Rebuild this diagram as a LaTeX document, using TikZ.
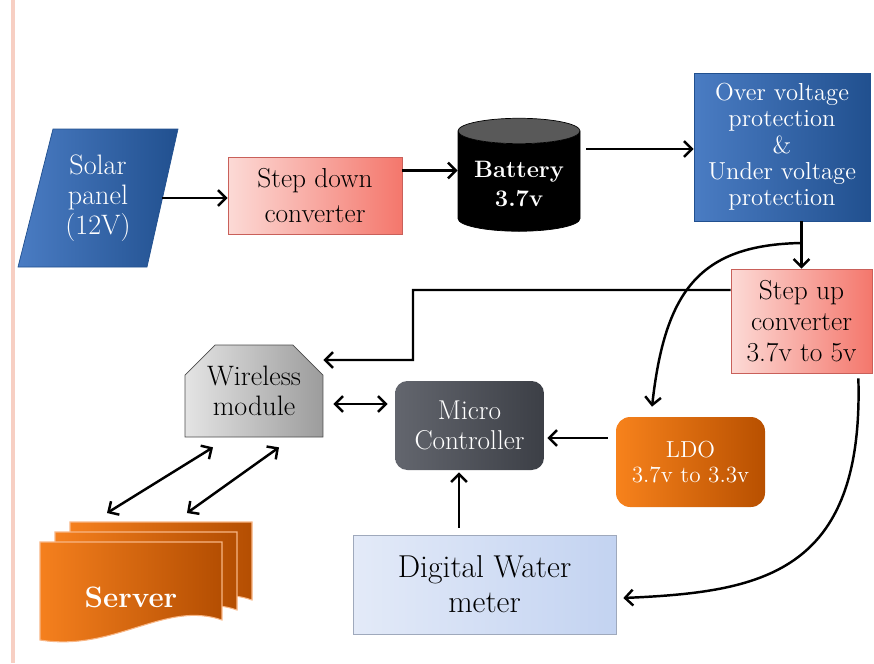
\documentclass[tikz,border=0pt]{standalone}
\usepackage{tikz}
\usetikzlibrary{shapes.geometric, shapes.misc, arrows.meta}

\definecolor{edgepink}{HTML}{F7CFC3}
\definecolor{bluelight}{HTML}{4A7CC3}
\definecolor{bluedark}{HTML}{21508F}
\definecolor{pinklight}{HTML}{FCDAD6}
\definecolor{pinkdark}{HTML}{F4776C}
\definecolor{pinkline}{HTML}{C9605A}
\definecolor{greylight}{HTML}{E4E4E4}
\definecolor{greydark}{HTML}{9C9C9C}
\definecolor{microlight}{HTML}{63666E}
\definecolor{microdark}{HTML}{3C3F46}
\definecolor{ldolight}{HTML}{F7821C}
\definecolor{ldodark}{HTML}{B85000}
\definecolor{meterlight}{HTML}{E3EAF8}
\definecolor{meterdark}{HTML}{C3D3F1}
\definecolor{meterline}{HTML}{9FA9BC}
\definecolor{srvlight}{HTML}{F5801E}
\definecolor{srvdark}{HTML}{B44E02}
\definecolor{srvline}{HTML}{F8B685}

\begin{document}
\begin{tikzpicture}[x = 0.02cm, y = -0.02cm,
  link/.style = {line width = 1.4pt, >={Straight Barb[length = 4.5pt, width = 9pt]}},
  txt/.style = {align = center, font = \fontsize{14}{15}\selectfont},
  pinkbox/.style = {rectangle, draw = pinkline, left color = pinklight, right color = pinkdark, txt}]
\useasboundingbox (0, 0) rectangle (874, 663);
\draw[edgepink, line width = 2pt] (13, 0) to (13, 663);

% supply chain
\shade[draw = bluedark, left color = bluelight, right color = bluedark] (53, 129) -- (178, 129) -- (147, 267) -- (18, 267) -- cycle;
\node (solar) at (98, 198) [txt, text = white, font = \fontsize{16}{17}\selectfont] {Solar\\panel\\(12V)};
\coordinate (solarout) at (162, 198);
\node (stepdown) at (315, 195.5) [pinkbox, minimum width = 3.48cm, minimum height = 1.54cm, font = \fontsize{15.6}{19.5}\selectfont] {Step down\\converter};
\node (battery) at (519, 184) [cylinder, shape border rotate = 90, aspect = 0.25, minimum width = 2.44cm, minimum height = 2.26cm, draw = black, cylinder uses custom fill, cylinder body fill = black, cylinder end fill = gray!70!black, text = white, align = center, font = \fontsize{13.5}{17}\selectfont\bfseries] {Battery\\3.7v};
\node (protect) at (782, 147) [rectangle, draw = bluedark, left color = bluelight, right color = bluedark, minimum width = 3.52cm, minimum height = 2.96cm, txt, text = white] {Over voltage\\protection\\\&\\Under voltage\\protection};
\node (stepup) at (801.5, 321) [pinkbox, minimum width = 2.82cm, minimum height = 2.08cm, font = \fontsize{15.6}{17.5}\selectfont] {Step up\\converter\\3.7v to 5v};

% load side
\node (wireless) at (254, 391) [chamfered rectangle, chamfered rectangle corners = {north west, north east}, chamfered rectangle xsep = 0.3cm, chamfered rectangle ysep = 0.3cm, draw = gray!60!black, left color = greylight, right color = greydark, minimum width = 2.76cm, minimum height = 1.84cm, txt, font = \fontsize{16}{17}\selectfont] {Wireless\\module};
\node (micro) at (469.5, 425.5) [rectangle, rounded corners = 7pt, left color = microlight, right color = microdark, minimum width = 2.98cm, minimum height = 1.78cm, txt, text = white, font = \fontsize{15.5}{17}\selectfont] {Micro\\Controller};
\node (ldo) at (690.5, 462) [rectangle, rounded corners = 8pt, left color = ldolight, right color = ldodark, minimum width = 2.98cm, minimum height = 1.8cm, txt, text = white, font = \fontsize{13.2}{14.5}\selectfont] {LDO\\3.7v to 3.3v};
\node (meter) at (484.5, 584.5) [rectangle, draw = meterline, left color = meterlight, right color = meterdark, minimum width = 5.26cm, minimum height = 1.98cm, txt, font = \fontsize{18}{20}\selectfont] {Digital Water\\meter};

\foreach \d in {30, 15, 0}
  \shade[draw = srvline, line width = 0.6pt, left color = srvlight, right color = srvdark, shift = {(\d, {-2*\d/3})}]
    (40, 542) -- (222, 542) -- (222, 620) .. controls (165, 600) and (115, 652) .. (40, 640) -- cycle;
\node (server) at (131, 597) [text = white, font = \fontsize{16.8}{18}\selectfont\bfseries] {Server};

% connections
\draw [->, link] (solarout) to (solarout -| stepdown.west);
\coordinate (sdout) at ([yshift = 0.5cm]stepdown.east);
\draw [->, link] (sdout) to (sdout -| battery.west);
\coordinate (batout) at ([xshift = 0.12cm, yshift = 0.7cm]battery.east);
\draw [->, link] (batout) to (batout -| protect.west);
\draw [->, link] (stepup.north |- protect.south) to (stepup.north);
\coordinate (split) at (801, 243);
\draw [->, link] (split) .. controls (700, 245) and (665, 290) .. ([xshift = -0.77cm, yshift = 0.2cm]ldo.north);
\coordinate (turn) at (413, 360);
\draw [->, link] ([yshift = 0.62cm]stepup.west) -| (turn) to ([yshift = 0.62cm]wireless.east);
\draw [->, link] ([xshift = -0.28cm, yshift = -0.1cm]stepup.south east) .. controls (864, 575) and (760, 592) .. ([xshift = 0.14cm, yshift = -0.27cm]meter.east);
\coordinate (ldoout) at ([xshift = -0.16cm, yshift = 0.48cm]ldo.west);
\draw [->, link] (ldoout) to ([xshift = 0.06cm]ldoout -| micro.east);
\coordinate (wlout) at ([xshift = 0.2cm, yshift = -0.26cm]wireless.east);
\draw [<->, link] (wlout) to ([xshift = -0.14cm]wlout -| micro.west);
\coordinate (meterout) at ([xshift = -0.51cm, yshift = 0.14cm]meter.north);
\draw [->, link] (meterout) to ([yshift = -0.04cm]meterout |- micro.south);
\draw [<->, link] ([xshift = -0.82cm, yshift = -0.2cm]wireless.south) to ([xshift = -0.48cm, yshift = 1.68cm]server.center);
\draw [<->, link] ([xshift = 0.5cm, yshift = -0.2cm]wireless.south) to ([xshift = 1.12cm, yshift = 1.68cm]server.center);
\end{tikzpicture}
\end{document}
